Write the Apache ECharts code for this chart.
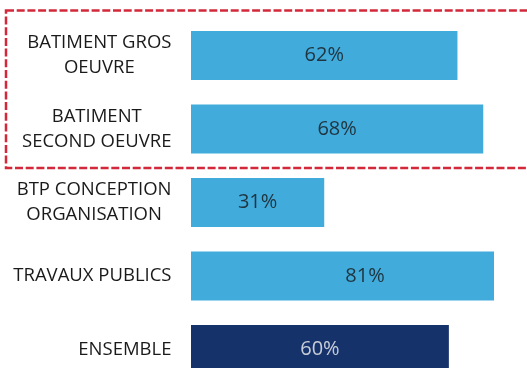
<!DOCTYPE html>
<html>
<head>
<meta charset="utf-8">
<script src="https://cdn.jsdelivr.net/npm/echarts@6/dist/echarts.min.js"></script>
<style>
  html, body { margin: 0; padding: 0; background: #ffffff; }
  #chart { width: 527px; height: 368px; }
</style>
</head>
<body>
<div id="chart"></div>
<script>
// Sectors and their shares (percent)
const categories = [
  'BATIMENT GROS\nOEUVRE',
  'BATIMENT\nSECOND OEUVRE',
  'BTP CONCEPTION\nORGANISATION',
  'TRAVAUX PUBLICS',
  'ENSEMBLE'
];
const values = [62, 68, 31, 81, 60];
// The overall figure is shown in the dark colour
const isTotal = [false, false, false, false, true];

const SECTOR_COLOR = '#41abdc';
const TOTAL_COLOR = '#16326a';
const FONT = "'Open Sans', 'Noto Sans', sans-serif";

const chart = echarts.init(document.getElementById('chart'), null, { renderer: 'canvas' });

const barData = values.map((v, i) => ({
  value: v,
  itemStyle: { color: isTotal[i] ? TOTAL_COLOR : SECTOR_COLOR }
}));

// Value labels sit at the middle of the full (unclipped) bar length
const labelData = values.map((v, i) => ({
  value: [v / 2, i],
  label: { color: isTotal[i] ? '#f2f2f2' : '#161616' }
}));

chart.setOption({
  animation: false,
  backgroundColor: '#ffffff',
  grid: {
    left: 191, right: 33, top: 18.75, height: 367.5,
    containLabel: false,
    outerBoundsMode: 'none'
  },
  xAxis: {
    type: 'value', min: 0, max: 70.5, show: false
  },
  yAxis: {
    type: 'category',
    inverse: true,
    data: categories,
    axisLine: { show: false },
    axisTick: { show: false },
    splitLine: { show: false },
    axisLabel: {
      margin: 19.5,
      formatter: (val) => val.split('\n').map(s => '{c|' + s + '}').join('\n'),
      rich: {
        c: {
          align: 'center',
          fontFamily: FONT,
          fontSize: 18.5,
          lineHeight: 25,
          color: '#1a1a1a'
        }
      }
    }
  },
  series: [
    {
      type: 'bar',
      data: barData,
      barWidth: 49,
      clip: true,
      silent: true
    },
    {
      type: 'scatter',
      data: labelData,
      symbolSize: 1,
      itemStyle: { color: 'transparent' },
      silent: true,
      z: 5,
      label: {
        show: true,
        position: 'inside',
        fontFamily: FONT,
        fontSize: 20,
        formatter: (p) => values[p.dataIndex] + '%'
      }
    }
  ],
  graphic: [
    {
      type: 'rect',
      silent: true,
      shape: { x: 6, y: 10.5, width: 545, height: 157.5 },
      style: {
        fill: 'none',
        stroke: '#d3283a',
        lineWidth: 2.5,
        lineDash: [8, 2.7]
      }
    }
  ]
});
</script>
</body>
</html>
